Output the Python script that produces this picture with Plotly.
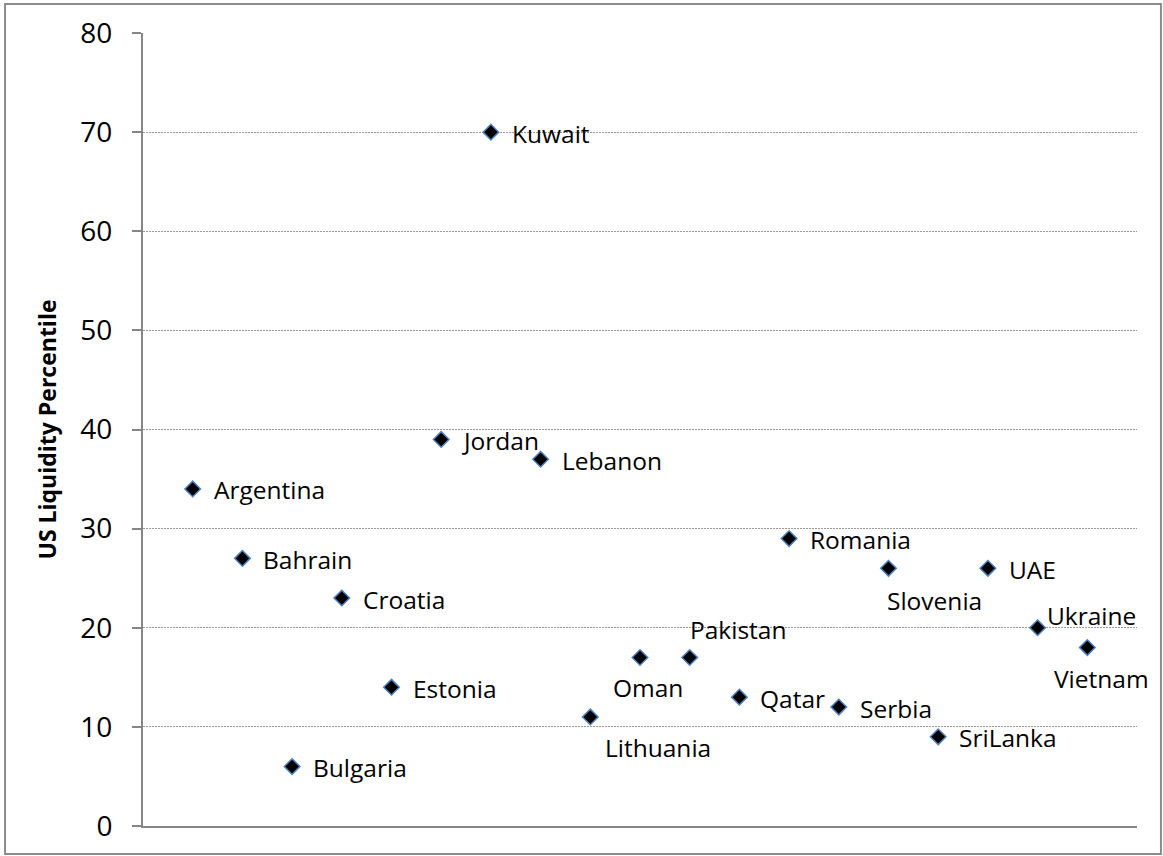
import plotly.graph_objects as go

countries = ["Argentina", "Bahrain", "Bulgaria", "Croatia", "Estonia", "Jordan", "Kuwait",
             "Lebanon", "Lithuania", "Oman", "Pakistan", "Qatar", "Romania", "Serbia",
             "Slovenia", "SriLanka", "UAE", "Ukraine", "Vietnam"]
liquidity = [34, 27, 6, 23, 14, 39, 70, 37, 11, 17, 17, 13, 29, 12, 26, 9, 26, 20, 18]
y_ticks = [0, 10, 20, 30, 40, 50, 60, 70, 80]

x_pos = list(range(1, len(countries) + 1))

# label offsets in pixels (style only)
default_off = (19, -1)
label_off = {
    "Lithuania": (13, -31),
    "Oman": (-29, -30),
    "Pakistan": (-2, 28),
    "Slovenia": (-4, -32),
    "Vietnam": (-35, -31),
    "Ukraine": (7, 12),
}

GREY = "#868686"
FONT = "Open Sans"

fig = go.Figure()
fig.add_trace(go.Scatter(
    x=x_pos, y=liquidity, mode="markers",
    marker=dict(symbol="diamond", size=12, color="#000000",
                line=dict(color="#4F81BD", width=1.5)),
    hoverinfo="text", text=countries, showlegend=False,
))

for xi, yi, name in zip(x_pos, liquidity, countries):
    dx, dy = label_off.get(name, default_off)
    fig.add_annotation(x=xi, y=yi, text=name, showarrow=False,
                       xanchor="left", yanchor="middle", xshift=dx, yshift=dy,
                       font=dict(family=FONT, size=24.5, color="#000000"))

fig.update_xaxes(range=[0, 20], showgrid=False, zeroline=False, showticklabels=False,
                 ticks="", showline=True, linecolor=GREY, linewidth=2)
fig.update_yaxes(range=[0, 80], tickvals=y_ticks, showgrid=True, gridcolor="#999999",
                 griddash="2px,1px", gridwidth=1, zeroline=False, showline=True,
                 linecolor=GREY, linewidth=2, ticks="outside", ticklen=9,
                 tickcolor=GREY, tickwidth=2, ticklabelstandoff=14,
                 tickfont=dict(family=FONT, size=28, color="#000000"),
                 title=dict(text="<b>US Liquidity Percentile</b>",
                            font=dict(family=FONT, size=23, color="#000000"),
                            standoff=17))

# outer chart border
fig.add_shape(type="rect", xref="paper", yref="paper",
              x0=-0.1388, x1=1.0241, y0=-0.0353, y1=1.0366,
              line=dict(color="#8C8C8C", width=2), fillcolor="rgba(0,0,0,0)", layer="below")

fig.update_layout(
    width=1163, height=856,
    margin=dict(l=143, r=26, t=33, b=30),
    plot_bgcolor="white", paper_bgcolor="white",
    font=dict(family=FONT),
)

fig.write_html("out.html")
